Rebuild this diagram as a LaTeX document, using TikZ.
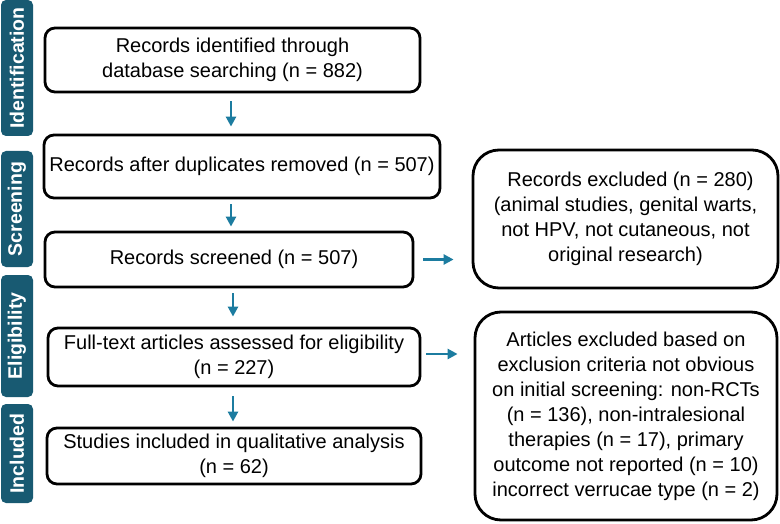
\documentclass[tikz,border=0pt]{standalone}
\usepackage{fontspec}
\setmainfont{Liberation Sans}
\usetikzlibrary{arrows.meta}
\definecolor{labelteal}{RGB}{24,90,114}
\definecolor{arrteal}{RGB}{28,124,160}
\begin{document}
\begin{tikzpicture}[x=1pt,y=-1pt,
  box/.style={draw=black,line width=2.8pt,rounded corners=10pt,inner sep=0pt,align=center,
    font=\fontsize{20}{25}\selectfont},
  bigbox/.style={box,rounded corners=26pt},
  sidelabel/.style={fill=labelteal,rounded corners=5pt,rotate=90,inner sep=0pt,
    minimum height=32pt,text=white,font=\fontsize{19.5}{22}\selectfont\bfseries},
  arr/.style={draw=arrteal,line width=2.5pt,-{Triangle[length=10pt,width=10pt]}}]
\useasboundingbox (0,0) rectangle (780,524);
% side labels
\node[sidelabel,minimum width=136pt] (L1) at (17,68) {Identification};
\node[sidelabel,minimum width=116pt] (L2) at (17,209) {Screening};
\node[sidelabel,minimum width=122pt] (L3) at (17,336) {Eligibility};
\node[sidelabel,minimum width=99pt] (L4) at (17,453.5) {Included};
% main boxes
\node[box,minimum width=375pt,minimum height=64pt] (b1) at (232.5,60)
  {Records identified through\\ database searching (n = 882)};
\node[box,minimum width=396pt,minimum height=63pt] (b2) at (242,166.5)
  {Records after duplicates removed (n = 507)};
\node[box,minimum width=368pt,minimum height=55pt] (b3) at (229,259.5)
  {\hspace*{10pt}Records screened (n = 507)};
\node[bigbox,minimum width=305pt,minimum height=138pt] (b4) at (625.5,219)
  {\hspace*{10pt}Records excluded (n = 280)\\ (animal studies, genital warts,\\ not HPV, not cutaneous, not\\ original research)};
\node[box,minimum width=372pt,minimum height=58pt] (b5) at (234,357)
  {Full-text articles assessed for eligibility\\ (n = 227)};
\node[bigbox,minimum width=302pt,minimum height=208pt] (b6) at (626,416)
  {Articles excluded based on\\ exclusion criteria not obvious\\ on initial screening: non-RCTs\\ (n = 136), non-intralesional\\ therapies (n = 17), primary\\ outcome not reported (n = 10)\\ incorrect verrucae type (n = 2)};
\node[box,minimum width=374pt,minimum height=56pt] (b7) at (234,456)
  {Studies included in qualitative analysis\\ (n = 62)};
% arrows
\path (b1.south) ++(-1.5,8) coordinate (s1);
\draw[arr,shorten >=7pt] (s1) -- (s1 |- b2.north);
\path (b2.south) ++(-11,5) coordinate (s2);
\draw[arr,shorten >=4pt] (s2) -- (s2 |- b3.north);
\path (b3.south) ++(4,5) coordinate (s3);
\draw[arr,shorten >=10pt] (s3) -- (s3 |- b5.north);
\path (b5.south) ++(-1,9) coordinate (s4);
\draw[arr,shorten >=5pt] (s4) -- (s4 |- b7.north);
\draw[arr,shorten <=9pt,shorten >=18pt] (b3.east) -- (b3.east -| b4.west);
\draw[arr,shorten <=5pt,shorten >=16pt] ([yshift=3pt]b5.east) -- ([yshift=3pt]b5.east -| b6.west);
\end{tikzpicture}
\end{document}
